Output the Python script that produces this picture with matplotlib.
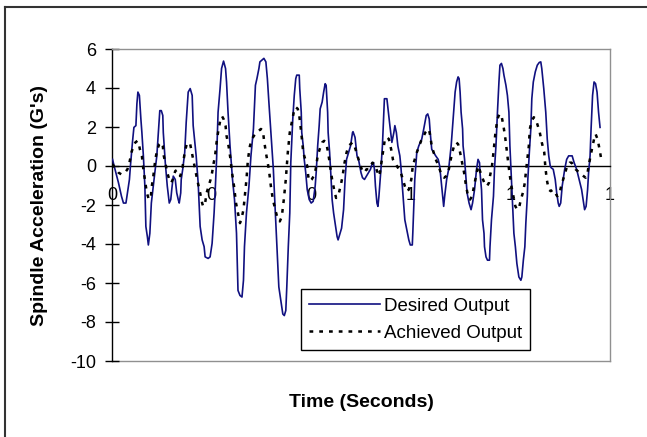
import matplotlib
matplotlib.use("Agg")
import matplotlib.pyplot as plt
from matplotlib.lines import Line2D

plt.rcParams['font.family'] = ['Liberation Sans', 'DejaVu Sans']

# ---- data ----
desired_t = [0.001, 0.006, 0.013, 0.019, 0.023, 0.028, 0.031, 0.035, 0.037, 0.041, 0.044, 0.048, 0.050, 0.052,
             0.055, 0.058, 0.060, 0.063, 0.066, 0.068, 0.071, 0.073, 0.076, 0.079, 0.082, 0.086, 0.090, 0.094,
             0.096, 0.099, 0.102, 0.103, 0.107, 0.111, 0.115, 0.118, 0.120, 0.123, 0.127, 0.130, 0.133, 0.135,
             0.138, 0.139, 0.142, 0.146, 0.149, 0.153, 0.157, 0.161, 0.163, 0.169, 0.173, 0.177, 0.181, 0.185,
             0.187, 0.193, 0.197, 0.201, 0.205, 0.207, 0.210, 0.213, 0.217, 0.220, 0.224, 0.228, 0.230, 0.233,
             0.237, 0.242, 0.246, 0.250, 0.253, 0.257, 0.261, 0.264, 0.266, 0.270, 0.275, 0.279, 0.284, 0.288,
             0.291, 0.295, 0.297, 0.301, 0.305, 0.309, 0.312, 0.315, 0.320, 0.324, 0.328, 0.335, 0.339, 0.343,
             0.346, 0.349, 0.351, 0.354, 0.357, 0.359, 0.363, 0.366, 0.369, 0.371, 0.376, 0.377, 0.380, 0.381,
             0.384, 0.386, 0.389, 0.392, 0.396, 0.400, 0.404, 0.408, 0.410, 0.413, 0.416, 0.418, 0.422, 0.425,
             0.428, 0.430, 0.433, 0.434, 0.437, 0.440, 0.442, 0.445, 0.448, 0.452, 0.454, 0.458, 0.461, 0.465,
             0.468, 0.471, 0.475, 0.479, 0.483, 0.484, 0.488, 0.492, 0.495, 0.500, 0.503, 0.507, 0.511, 0.515,
             0.519, 0.523, 0.525, 0.527, 0.529, 0.532, 0.534, 0.536, 0.540, 0.543, 0.546, 0.547, 0.552, 0.555,
             0.558, 0.562, 0.566, 0.568, 0.571, 0.574, 0.578, 0.580, 0.584, 0.588, 0.592, 0.596, 0.599, 0.603,
             0.604, 0.608, 0.612, 0.616, 0.622, 0.626, 0.631, 0.634, 0.637, 0.639, 0.642, 0.646, 0.650, 0.655,
             0.658, 0.662, 0.666, 0.668, 0.672, 0.676, 0.679, 0.681, 0.684, 0.687, 0.689, 0.692, 0.695, 0.697,
             0.699, 0.701, 0.704, 0.705, 0.708, 0.711, 0.713, 0.717, 0.721, 0.724, 0.728, 0.732, 0.735, 0.738,
             0.739, 0.742, 0.744, 0.747, 0.748, 0.751, 0.754, 0.758, 0.759, 0.762, 0.766, 0.768, 0.771, 0.774,
             0.777, 0.779, 0.782, 0.785, 0.787, 0.791, 0.794, 0.797, 0.799, 0.802, 0.805, 0.807, 0.810, 0.813,
             0.817, 0.821, 0.823, 0.826, 0.829, 0.831, 0.834, 0.835, 0.838, 0.841, 0.843, 0.846, 0.850, 0.854,
             0.858, 0.861, 0.863, 0.867, 0.871, 0.874, 0.877, 0.880, 0.882, 0.886, 0.890, 0.893, 0.896, 0.898,
             0.901, 0.904, 0.909, 0.913, 0.917, 0.924, 0.928, 0.933, 0.938, 0.943, 0.947, 0.949, 0.952, 0.955,
             0.957, 0.960, 0.962, 0.965, 0.968, 0.971, 0.974, 0.977, 0.980]
desired_g = [0.34, -0.17, -0.86, -1.55, -1.90, -1.90, -1.38, -0.69, 0.00, 1.20, 1.98, 2.07, 3.19, 3.79,
             3.62, 2.41, 1.72, 0.52, -1.03, -3.10, -3.62, -4.05, -3.45, -1.90, -1.21, -0.34, 0.52, 2.07,
             2.84, 2.84, 2.59, 1.72, 0.17, -1.03, -1.90, -1.72, -1.21, -0.52, -0.69, -1.38, -1.72, -1.90,
             -1.38, -0.69, -0.17, 0.69, 2.24, 3.79, 3.97, 3.62, 2.07, 0.52, -0.86, -3.10, -3.79, -4.14,
             -4.66, -4.74, -4.66, -3.97, -2.41, -1.38, 0.34, 2.76, 3.97, 5.00, 5.38, 5.00, 4.31, 2.76,
             1.03, -0.69, -1.72, -3.45, -6.38, -6.64, -6.72, -5.86, -4.14, -2.41, -1.03, 0.52, 1.90, 4.14,
             4.48, 5.00, 5.34, 5.43, 5.52, 5.34, 4.48, 3.28, 1.38, -0.17, -2.41, -6.20, -6.90, -7.59,
             -7.67, -7.41, -6.20, -4.14, -2.41, 0.17, 2.41, 3.62, 4.48, 4.66, 4.66, 3.97, 2.76, 1.72,
             1.03, 0.34, -0.34, -1.21, -1.72, -1.90, -1.81, -1.03, -0.34, 1.03, 2.07, 2.93, 3.28, 3.79,
             4.22, 4.14, 2.76, 1.72, 0.69, -0.69, -1.72, -2.41, -2.93, -3.62, -3.79, -3.45, -3.19, -2.24,
             -0.69, 0.34, 0.69, 1.03, 1.72, 1.76, 1.47, 0.52, 0.34, -0.34, -0.60, -0.69, -0.52, -0.34,
             -0.17, 0.17, 0.17, -0.17, -1.03, -1.90, -2.07, -1.55, -0.17, 1.03, 2.76, 3.45, 3.45, 2.76,
             2.07, 1.21, 1.72, 2.07, 1.72, 1.03, 0.52, 0.00, -1.38, -2.76, -3.28, -3.79, -4.05, -4.05,
             -3.45, -0.69, 0.69, 1.03, 1.38, 1.90, 2.59, 2.67, 2.41, 1.72, 0.86, 0.69, 0.52, 0.34,
             0.00, -1.03, -2.07, -1.55, -0.69, -0.17, 0.52, 1.03, 2.07, 3.10, 3.79, 4.31, 4.57, 4.48,
             3.79, 2.76, 1.90, 1.03, 0.34, -0.69, -1.38, -1.90, -2.24, -1.90, -1.21, -0.17, 0.34, 0.17,
             -0.34, -1.21, -2.76, -3.45, -4.14, -4.66, -4.83, -4.83, -4.14, -2.76, -1.55, -0.17, 1.03, 2.76,
             4.31, 5.17, 5.26, 5.00, 4.66, 4.14, 3.62, 2.76, 1.03, -0.69, -2.41, -3.45, -4.14, -5.00,
             -5.69, -5.86, -5.69, -4.83, -4.14, -2.93, -1.55, -0.69, 0.69, 1.90, 3.45, 4.31, 4.83, 5.17,
             5.31, 5.34, 5.00, 3.97, 2.76, 1.38, 0.52, 0.00, -0.09, -0.17, -0.69, -1.38, -1.90, -2.07,
             -1.90, -1.03, -0.17, 0.34, 0.52, 0.52, 0.17, -0.17, -0.69, -1.21, -1.90, -2.24, -2.07, -1.21,
             -0.34, 0.52, 1.90, 3.62, 4.31, 4.22, 3.79, 2.76, 1.98]

achieved_t = [0.001, 0.006, 0.013, 0.019, 0.026, 0.031, 0.035, 0.039, 0.043, 0.047, 0.051, 0.054, 0.056, 0.060,
              0.063, 0.067, 0.070, 0.074, 0.078, 0.080, 0.083, 0.087, 0.091, 0.095, 0.099, 0.102, 0.104, 0.107,
              0.111, 0.115, 0.119, 0.122, 0.125, 0.127, 0.130, 0.133, 0.137, 0.141, 0.143, 0.146, 0.150, 0.154,
              0.157, 0.159, 0.163, 0.167, 0.171, 0.177, 0.181, 0.183, 0.187, 0.190, 0.194, 0.198, 0.201, 0.203,
              0.207, 0.210, 0.214, 0.218, 0.221, 0.224, 0.228, 0.230, 0.234, 0.238, 0.241, 0.245, 0.249, 0.253,
              0.257, 0.261, 0.264, 0.266, 0.270, 0.273, 0.277, 0.281, 0.285, 0.291, 0.295, 0.299, 0.303, 0.305,
              0.309, 0.315, 0.319, 0.323, 0.328, 0.333, 0.337, 0.341, 0.345, 0.349, 0.353, 0.357, 0.361, 0.365,
              0.369, 0.373, 0.376, 0.380, 0.384, 0.388, 0.392, 0.394, 0.397, 0.401, 0.405, 0.409, 0.413, 0.417,
              0.422, 0.426, 0.430, 0.434, 0.438, 0.442, 0.446, 0.450, 0.454, 0.459, 0.463, 0.467, 0.471, 0.475,
              0.479, 0.483, 0.487, 0.491, 0.495, 0.499, 0.503, 0.507, 0.511, 0.515, 0.519, 0.523, 0.527, 0.531,
              0.535, 0.537, 0.540, 0.543, 0.546, 0.548, 0.552, 0.556, 0.559, 0.562, 0.564, 0.567, 0.570, 0.572,
              0.576, 0.580, 0.584, 0.588, 0.592, 0.596, 0.601, 0.604, 0.608, 0.612, 0.617, 0.622, 0.626, 0.630,
              0.634, 0.637, 0.639, 0.642, 0.646, 0.650, 0.656, 0.660, 0.667, 0.671, 0.675, 0.679, 0.683, 0.687,
              0.691, 0.695, 0.699, 0.703, 0.707, 0.711, 0.715, 0.719, 0.723, 0.727, 0.731, 0.735, 0.738, 0.740,
              0.745, 0.749, 0.753, 0.757, 0.759, 0.763, 0.766, 0.770, 0.774, 0.778, 0.782, 0.786, 0.790, 0.794,
              0.798, 0.802, 0.806, 0.810, 0.814, 0.818, 0.821, 0.825, 0.829, 0.831, 0.834, 0.837, 0.839, 0.843,
              0.847, 0.851, 0.855, 0.859, 0.863, 0.868, 0.870, 0.873, 0.877, 0.881, 0.886, 0.890, 0.894, 0.898,
              0.902, 0.906, 0.910, 0.914, 0.919, 0.923, 0.927, 0.931, 0.935, 0.939, 0.943, 0.947, 0.951, 0.955,
              0.957, 0.961, 0.965, 0.968, 0.971, 0.975, 0.979, 0.983]
achieved_g = [0.09, -0.09, -0.34, -0.43, -0.34, -0.17, 0.17, 0.69, 1.03, 1.21, 1.29, 1.12, 0.86, 0.52,
              -0.17, -0.86, -1.38, -1.72, -1.55, -1.03, -0.52, 0.34, 0.86, 1.12, 1.21, 1.03, 0.52, 0.17,
              -0.34, -0.69, -0.86, -0.69, -0.43, -0.26, -0.21, -0.34, -0.52, -0.17, 0.17, 0.69, 1.12, 1.21,
              1.12, 0.86, 0.34, -0.17, -0.69, -1.38, -1.90, -2.07, -1.90, -1.38, -1.03, -0.69, -0.34, 0.00,
              0.52, 1.21, 1.90, 2.41, 2.55, 2.41, 2.07, 1.55, 1.03, 0.34, -0.34, -1.03, -1.90, -2.41,
              -2.93, -2.59, -2.24, -1.72, -0.69, 0.34, 1.03, 1.38, 1.55, 1.72, 1.81, 1.90, 1.81, 1.38,
              0.69, -0.17, -1.03, -1.72, -2.24, -2.76, -2.84, -2.59, -1.72, -0.69, 0.69, 1.72, 2.24, 2.76,
              3.02, 2.93, 2.59, 1.72, 0.69, 0.34, 0.00, -0.52, -0.78, -0.69, -0.52, -0.17, 0.52, 0.86,
              1.21, 1.29, 1.21, 0.69, 0.00, -0.69, -1.21, -1.64, -1.55, -1.03, -0.52, 0.17, 0.69, 1.03,
              1.12, 1.21, 1.03, 0.69, 0.34, 0.00, -0.26, -0.34, -0.17, -0.17, 0.00, 0.17, 0.09, -0.17,
              -0.43, -0.52, 0.00, 0.52, 1.03, 1.38, 1.47, 1.38, 1.03, 0.69, 0.34, 0.17, 0.09, 0.00,
              -0.17, -0.34, -0.69, -1.03, -1.29, -1.21, -0.69, 0.00, 0.34, 0.69, 1.03, 1.38, 1.55, 1.76,
              1.90, 1.81, 1.55, 1.03, 0.69, 0.34, 0.00, -0.34, -0.60, -0.52, -0.34, 0.17, 0.69, 1.03,
              1.21, 1.12, 0.69, 0.17, -0.34, -1.03, -1.55, -1.72, -1.55, -1.03, -0.52, 0.00, -0.17, -0.34,
              -0.69, -0.95, -1.03, -0.86, -0.52, 0.00, 0.69, 1.72, 2.41, 2.67, 2.59, 2.07, 1.38, 0.52,
              -0.34, -1.03, -1.55, -2.07, -2.24, -2.07, -1.72, -1.38, -0.86, -0.34, 0.34, 1.03, 1.90, 2.33,
              2.50, 2.41, 2.07, 1.72, 1.21, 0.69, 0.00, -0.69, -1.21, -1.29, -1.21, -1.38, -1.55, -1.47,
              -1.03, -0.69, -0.34, 0.00, 0.17, 0.17, 0.00, -0.17, -0.26, -0.34, -0.43, -0.52, -0.60, -0.34,
              0.00, 0.52, 1.03, 1.38, 1.64, 1.38, 0.86, 0.26]

x_ticks = [0.0, 0.2, 0.4, 0.6, 0.8, 1.0]
x_tick_labels = ["0", "0", "0", "1", "1", "1"]
y_ticks = [-10, -8, -6, -4, -2, 0, 2, 4, 6]
series_names = ["Desired Output", "Achieved Output"]

# ---- figure ----
W, H = 647, 437
fig = plt.figure(figsize=(W / 100, H / 100), dpi=100)
fig.patch.set_facecolor('white')

# outer chart frame (cut off at right/bottom as in the reference)
fig.add_artist(Line2D([5 / W, 5 / W], [0, 1 - 7 / H], transform=fig.transFigure,
                      color='#333333', lw=1.5))
fig.add_artist(Line2D([5 / W, 1], [1 - 7 / H, 1 - 7 / H], transform=fig.transFigure,
                      color='#333333', lw=1.5))

ax = fig.add_axes([112 / W, 1 - 361 / H, 498 / W, 312 / H])
ax.set_xlim(0, 1.0)
ax.set_ylim(-10, 6)

ax.plot(desired_t, desired_g, color='#101080', lw=1.2, label=series_names[0], zorder=3)
ax.plot(achieved_t, achieved_g, color='black', lw=1.8, linestyle=(0, (1.5, 2.4)),
        label=series_names[1], zorder=4)

# spines
for s in ['top', 'right']:
    ax.spines[s].set_color('#909090')
    ax.spines[s].set_linewidth(1.0)
ax.spines['left'].set_color('black')
ax.spines['left'].set_linewidth(1.0)
ax.spines['bottom'].set_position(('data', 0))
ax.spines['bottom'].set_color('black')
ax.spines['bottom'].set_linewidth(1.0)
ax.axhline(-10, color='#909090', lw=1.0, clip_on=False, zorder=1)

ax.set_yticks(y_ticks)
ax.set_yticklabels([str(v) for v in y_ticks])
ax.tick_params(axis='y', direction='inout', length=10, width=1, color='black',
               labelsize=13, pad=6.5)
ax.set_xticks(x_ticks)
ax.set_xticklabels(x_tick_labels)
ax.tick_params(axis='x', length=0, labelsize=13, pad=15)

ax.set_ylabel("Spindle Acceleration (G's)", fontsize=14, fontweight='bold')
ax.yaxis.set_label_coords(-0.1285, 0.5)
ax.set_xlabel("Time (Seconds)", fontsize=14, fontweight='bold')
ax.xaxis.set_label_coords(0.5, -0.106)

leg = ax.legend(loc='upper left', bbox_to_anchor=(301 / W, 1 - 289 / H),
                bbox_transform=fig.transFigure, fontsize=13.5, frameon=True,
                fancybox=False, edgecolor='black', framealpha=1, borderaxespad=0,
                handlelength=3.75, handletextpad=0.2, labelspacing=0.55, borderpad=0.45)
leg.get_frame().set_linewidth(1.0)

fig.savefig('out.png', dpi=100)
